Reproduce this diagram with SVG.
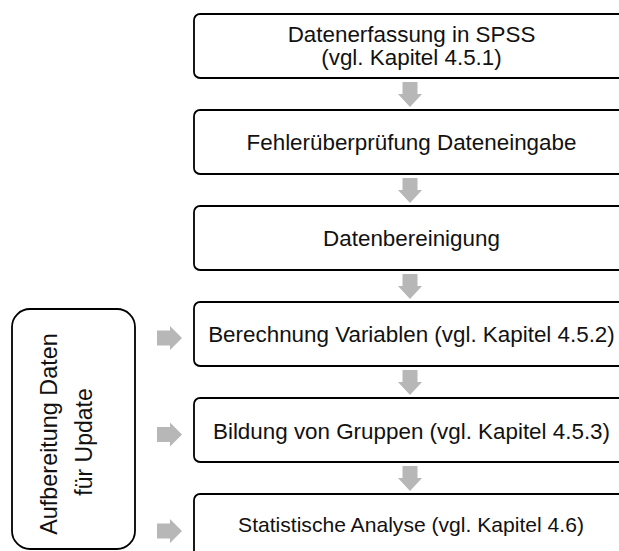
<svg xmlns="http://www.w3.org/2000/svg" width="619" height="551" viewBox="0 0 619 551">
<style>
.box{fill:#fff;stroke:#000;stroke-width:1.8}
.t{font-family:"Liberation Sans",Arial,Helvetica,sans-serif;font-size:22.4px;fill:#111;text-anchor:middle}
.arr{fill:#b7b7b7;stroke:none}
</style>
<defs>
<path id="down" d="M-7.5,0 H7.5 V12 H12 L0,25 L-12,12 H-7.5 Z"/>
<path id="right" d="M0,-7.5 V7.5 H13 V12 L25,0 L13,-12 V-7.5 Z"/>
</defs>
<rect width="619" height="551" fill="#fff"/>
<g id="connectors" class="arr">
<use href="#down" x="410" y="82"/>
<use href="#down" x="410" y="178"/>
<use href="#down" x="410" y="274"/>
<use href="#down" x="410" y="370"/>
<use href="#down" x="410" y="466"/>
<use href="#right" x="157" y="338"/>
<use href="#right" x="157" y="434.5"/>
<use href="#right" x="157" y="531"/>
</g>
<g id="n1"><rect class="box" x="194" y="14" width="440" height="64" rx="6"/>
<text class="t" x="411.5" y="41.5">Datenerfassung in SPSS</text>
<text class="t" x="411.5" y="65">(vgl. Kapitel 4.5.1)</text></g>
<g id="n2"><rect class="box" x="194" y="110" width="440" height="64" rx="6"/>
<text class="t" x="411.5" y="150">Fehlerüberprüfung Dateneingabe</text></g>
<g id="n3"><rect class="box" x="194" y="206" width="440" height="64" rx="6"/>
<text class="t" x="411.5" y="246">Datenbereinigung</text></g>
<g id="n4"><rect class="box" x="194" y="302" width="440" height="64" rx="6"/>
<text class="t" x="411.5" y="342">Berechnung Variablen (vgl. Kapitel 4.5.2)</text></g>
<g id="n5"><rect class="box" x="194" y="398" width="440" height="64" rx="6"/>
<text class="t" x="411.5" y="439">Bildung von Gruppen (vgl. Kapitel 4.5.3)</text></g>
<g id="n6"><rect class="box" x="194" y="494" width="440" height="64" rx="6"/>
<text class="t" x="411" y="532" style="font-size:21.1px">Statistische Analyse (vgl. Kapitel 4.6)</text></g>
<g id="side"><rect class="box" x="12" y="309" width="123" height="240" rx="18"/>
<text class="t" transform="translate(57,434) rotate(-90)" style="font-size:23.4px">Aufbereitung Daten</text>
<text class="t" transform="translate(92,442) rotate(-90)" style="font-size:23px">für Update</text></g>
</svg>
